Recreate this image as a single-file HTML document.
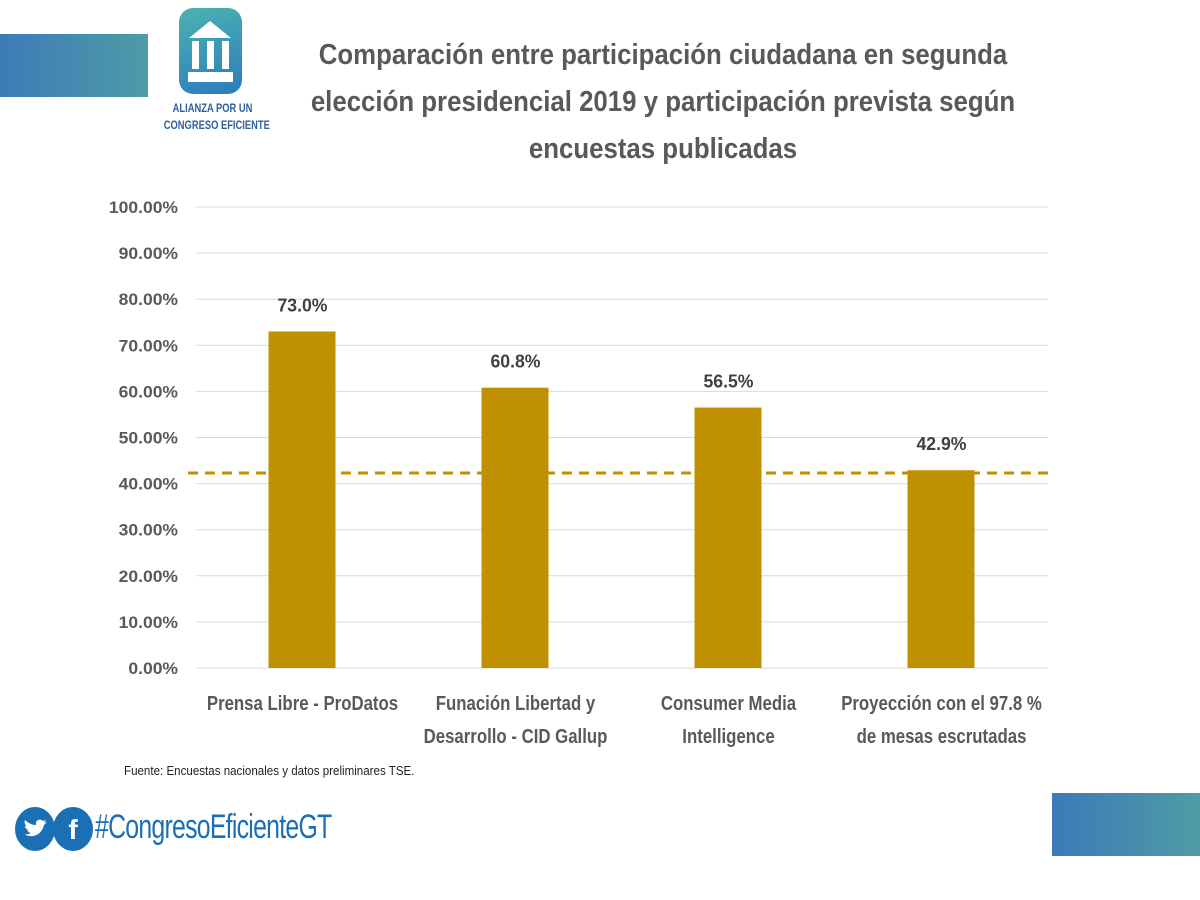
<!DOCTYPE html>
<html><head><meta charset="utf-8"><style>
body{margin:0;width:1200px;height:900px;background:#fff;position:relative;overflow:hidden;font-family:"Liberation Sans",sans-serif}
.abs{position:absolute;white-space:nowrap}
</style></head><body>
<div class="abs" style="left:0;top:34px;width:148px;height:63px;background:linear-gradient(90deg,#3c7ab8,#4f9ca6)"></div>
<div class="abs" style="left:1052px;top:793px;width:148px;height:63px;background:linear-gradient(90deg,#3c7ab8,#4f9ca6)"></div>
<div class="abs" style="left:179px;top:8px;width:63px;height:86px;border-radius:14px;background:linear-gradient(160deg,#4db3b0,#2a7cbf)">
<svg width="63" height="86" viewBox="0 0 63 86"><polygon points="31,13 10,30 52,30" fill="#fff"/><rect x="13" y="33" width="7" height="28" fill="#fff"/><rect x="28" y="33" width="7" height="28" fill="#fff"/><rect x="43" y="33" width="7" height="28" fill="#fff"/><rect x="9" y="64" width="45" height="10" fill="#fff"/></svg></div>
<div class="abs" style="left:150px;top:100px;width:125px;text-align:center;font-size:12px;font-weight:bold;color:#2c5f9e;line-height:17px;transform:scaleX(0.78)">ALIANZA POR UN<br>CONGRESO EFICIENTE</div>
<div class="abs" style="left:163px;top:32px;width:1000px;text-align:center;font-size:29px;font-weight:bold;color:#595959;line-height:47px;transform:scaleX(0.89)">Comparación entre participación ciudadana en segunda<br>elección presidencial 2019 y participación prevista según<br>encuestas publicadas</div>
<svg class="abs" style="left:0;top:0" width="1200" height="900" id="chart"></svg>
<div class="abs" style="left:124px;top:763px;font-size:13px;color:#222;transform:scaleX(0.89);transform-origin:0 0">Fuente: Encuestas nacionales y datos preliminares TSE.</div>
<div class="abs" style="left:15px;top:807px;width:40px;height:44px;border-radius:50%;background:#1b6fb5">
<svg width="40" height="44" viewBox="0 0 40 44"><path d="M9 27 C15 31 26 30 29 18 L32 15 L29 15.5 L31 13 L28 14 C25 11 20 13 21 18 C16 18 12 15 10 13 C9 16 10 18 12 19 L10 19 C10 21 12 23 14 23 L12 23.5 C13 25 15 26 16 26 C14 27 11 28 9 27Z" fill="#fff"/></svg></div>
<div class="abs" style="left:53px;top:807px;width:40px;height:44px;border-radius:50%;background:#1b6fb5;color:#fff;font:bold 28px 'Liberation Sans',sans-serif;text-align:center;line-height:46px">f</div>
<div class="abs" style="left:95px;top:808px;font-size:34px;color:#1b6fb5;letter-spacing:-1px;transform:scaleX(0.73);transform-origin:0 0">#CongresoEficienteGT</div>
<script>
const categories=[["Prensa Libre - ProDatos"],["Funación Libertad y","Desarrollo - CID Gallup"],["Consumer Media","Intelligence"],["Proyección con el 97.8 %","de mesas escrutadas"]];
const values=[73.0,60.8,56.5,42.9];
const valueLabels=["73.0%","60.8%","56.5%","42.9%"];
const yTicks=[0,10,20,30,40,50,60,70,80,90,100];
const refLine=42.3;
const svg=document.getElementById('chart');const NS='http://www.w3.org/2000/svg';
const x0=196,x1=1048,yB=668,yT=207;
const y=v=>yB-(v/100)*(yB-yT);
const band=(x1-x0)/categories.length;
const xc=i=>x0+band*(i+0.5);
function mk(t,a){const e=document.createElementNS(NS,t);for(const k in a)e.setAttribute(k,a[k]);svg.appendChild(e);return e;}
const sq=(x,s)=>`translate(${x},0) scale(${s},1) translate(${-x},0)`;
yTicks.forEach(t=>{
 const g=mk('line',{x1:x0,x2:x1,y1:y(t),y2:y(t),stroke:'#d9d9d9','stroke-width':1});
 
 const l=mk('text',{x:178,y:y(t)+6,'text-anchor':'end','font-size':17,'font-weight':'bold',fill:'#595959',transform:sq(178,1.03)});
 l.textContent=t.toFixed(2)+'%';
 
});
values.forEach((v,i)=>{
 const r=mk('rect',{x:xc(i)-34,y:y(v),width:67,height:yB-y(v),fill:'#bf9000'});
 
 const t=mk('text',{x:xc(i),y:y(v)-20,'text-anchor':'middle','font-size':18,'font-weight':'bold',fill:'#404040',transform:sq(xc(i),0.98)});
 t.textContent=valueLabels[i];
 
 categories[i].forEach((s,j)=>{
  const c=mk('text',{x:xc(i),y:710+j*33,'text-anchor':'middle','font-size':20,'font-weight':'bold',fill:'#595959',transform:sq(xc(i),0.84)});
  c.textContent=s;
  
 });
});
const d=mk('line',{x1:x0-8,x2:x1,y1:y(refLine),y2:y(refLine),stroke:'#bf9000','stroke-width':3,'stroke-dasharray':'10 7'});

</script>
</body></html>
